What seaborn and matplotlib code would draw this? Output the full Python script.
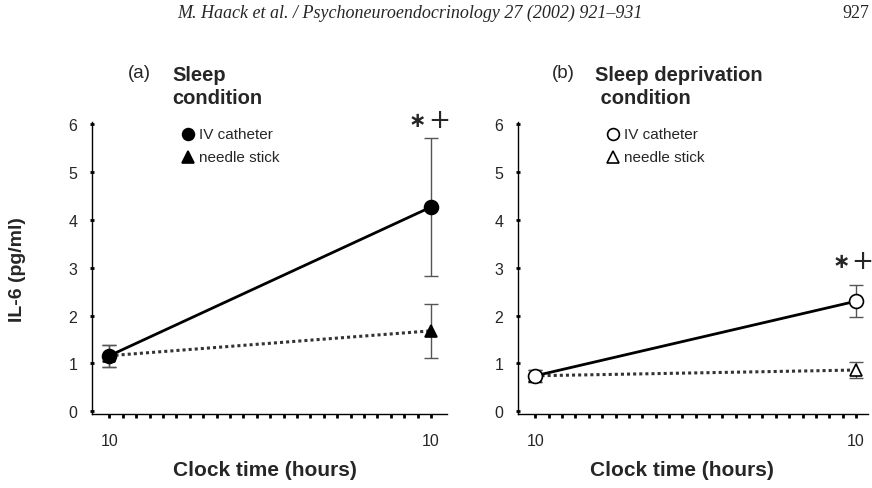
import pandas as pd
import seaborn as sns
import matplotlib.pyplot as plt

# hours after 10:00 (first and last sampling at 10 o'clock)
hours = [0, 24]
hour_ticks = list(range(0, 25))
tick_labels = ["10", "10"]

# (a) sleep condition
sleep_iv = [1.16, 4.27]
sleep_iv_err = [0.23, 1.45]
sleep_ns = [1.16, 1.68]
sleep_ns_err = [0.23, 0.57]

# (b) sleep deprivation condition
dep_iv = [0.74, 2.30]
dep_iv_err = [0.12, 0.33]
dep_ns = [0.74, 0.86]
dep_ns_err = [0.12, 0.17]

groups = ["IV catheter", "needle stick"]


def make_frame(iv, ns):
    return pd.DataFrame({
        "hour": hours + hours,
        "il6": iv + ns,
        "group": [groups[0]] * 2 + [groups[1]] * 2,
    })


sns.set_theme(style="white")
plt.rcParams["font.family"] = ["Liberation Sans", "DejaVu Sans"]

fig = plt.figure(figsize=(8.72, 4.89), dpi=100)
ax_a = fig.add_axes([92 / 872, 74 / 489, 355 / 872, 292 / 489])
ax_b = fig.add_axes([518 / 872, 74 / 489, 350 / 872, 292 / 489])

panels = [
    (ax_a, sleep_iv, sleep_iv_err, sleep_ns, sleep_ns_err, "black", (-1.3, 25.2), 5.9),
    (ax_b, dep_iv, dep_iv_err, dep_ns, dep_ns_err, "white", (-1.3, 24.9), 5.8),
]

for ax, iv, iv_err, ns, ns_err, face, xlim, leg_x in panels:
    df = make_frame(iv, ns)
    # error bars first so markers sit on top
    ax.errorbar(hours, iv, yerr=iv_err, fmt="none", ecolor="#555555",
                elinewidth=1, capsize=5, capthick=1, zorder=2)
    ax.errorbar(hours, ns, yerr=ns_err, fmt="none", ecolor="#555555",
                elinewidth=1, capsize=5, capthick=1, zorder=2)
    sns.lineplot(data=df[df["group"] == groups[1]], x="hour", y="il6", ax=ax,
                 color="#333333", linewidth=2.2, linestyle=(0, (1, 1)),
                 marker="^", markersize=9, markerfacecolor=face,
                 markeredgecolor="black", markeredgewidth=1.2, zorder=3)
    sns.lineplot(data=df[df["group"] == groups[0]], x="hour", y="il6", ax=ax,
                 color="black", linewidth=2, marker="o", markersize=10,
                 markerfacecolor=face, markeredgecolor="black",
                 markeredgewidth=1.2, zorder=4)

    ax.set_xlim(*xlim)
    ax.set_ylim(-0.06, 6.05)
    ax.set_xticks(hours)
    ax.set_xticklabels(tick_labels, fontsize=11.5)
    ax.set_xticks(hour_ticks, minor=True)
    ax.set_yticks(range(0, 7))
    ax.set_yticklabels([str(v) for v in range(0, 7)], fontsize=11.5)
    ax.tick_params(axis="x", which="both", direction="out", length=3, width=2,
                   color="black", bottom=True, pad=11)
    ax.tick_params(axis="y", which="major", direction="inout", length=3, width=2,
                   color="black", left=True, pad=9)
    for side in ["top", "right"]:
        ax.spines[side].set_visible(False)
    for side in ["left", "bottom"]:
        ax.spines[side].set_color("black")
        ax.spines[side].set_linewidth(1)
    ax.set_xlabel("")
    ax.set_ylabel("")
    ax.set_facecolor("white")

    # legend drawn as marker + text in data coords
    ax.plot([leg_x], [5.8], marker="o", markersize=8.5, markerfacecolor=face,
            markeredgecolor="black", markeredgewidth=1.2, linestyle="none",
            clip_on=False)
    ax.text(leg_x + 0.8, 5.8, groups[0], fontsize=11, va="center")
    ax.plot([leg_x], [5.31], marker="^", markersize=8.5, markerfacecolor=face,
            markeredgecolor="black", markeredgewidth=1.2, linestyle="none",
            clip_on=False)
    ax.text(leg_x + 0.8, 5.31, groups[1], fontsize=11, va="center")

# significance marks (asterisk and plus drawn centred on the same line)
sig_font = ["DejaVu Sans"]
ax_a.text(23.0, 6.1, "\u2217", fontsize=15, fontweight="bold", family=sig_font,
          ha="center", va="center", clip_on=False)
ax_a.text(24.6, 6.1, "+", fontsize=19, family=sig_font,
          ha="center", va="center", clip_on=False)
ax_b.text(22.9, 3.14, "\u2217", fontsize=15, fontweight="bold", family=sig_font,
          ha="center", va="center", clip_on=False)
ax_b.text(24.5, 3.14, "+", fontsize=19, family=sig_font,
          ha="center", va="center", clip_on=False)

# panel titles
fig.text(128 / 872, 1 - 73 / 489, "(a)", fontsize=13.5, va="center")
fig.text(172 / 872, 1 - 87 / 489, "Sleep\ncondition", fontsize=14.5,
         fontweight="bold", va="center", linespacing=1.25)
fig.text(552 / 872, 1 - 73 / 489, "(b)", fontsize=13.5, va="center")
fig.text(595 / 872, 1 - 87 / 489, "Sleep deprivation\n condition", fontsize=14.5,
         fontweight="bold", va="center", linespacing=1.25)

# axis labels
fig.text(18 / 872, 1 - 270 / 489, "IL-6 (pg/ml)", fontsize=14,
         fontweight="bold", rotation=90, ha="center", va="center")
fig.text(265 / 872, 1 - 471 / 489, "Clock time (hours)", fontsize=15,
         fontweight="bold", ha="center", va="center")
fig.text(682 / 872, 1 - 471 / 489, "Clock time (hours)", fontsize=15,
         fontweight="bold", ha="center", va="center")

# journal running header
fig.text(410 / 872, 1 - 13 / 489,
         "M. Haack et al. / Psychoneuroendocrinology 27 (2002) 921\u2013931",
         fontsize=13, family=["Liberation Serif", "DejaVu Serif"],
         style="italic", ha="center", va="center")
fig.text(856 / 872, 1 - 13 / 489, "927", fontsize=13,
         family=["Liberation Serif", "DejaVu Serif"], ha="center", va="center")

fig.savefig("out.png", dpi=100, facecolor="white")
plt.close(fig)
